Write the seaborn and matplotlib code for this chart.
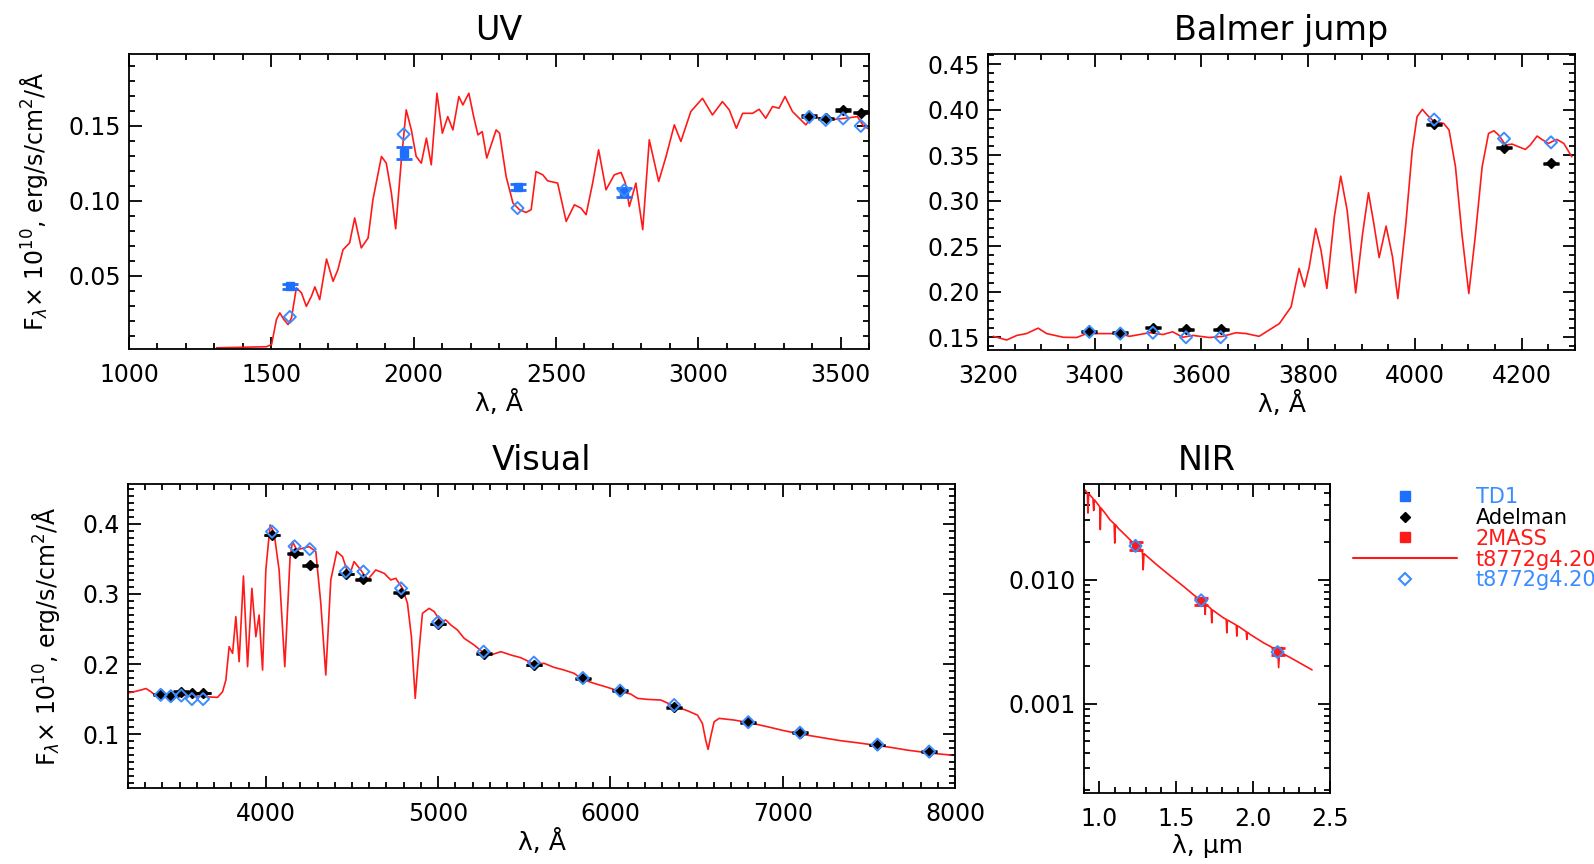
import numpy as np
import pandas as pd
import matplotlib
matplotlib.use("Agg")
import matplotlib.pyplot as plt
import seaborn as sns
from matplotlib.ticker import MultipleLocator, FixedLocator, FormatStrFormatter, LogLocator, NullFormatter
from matplotlib.lines import Line2D

# ---------------- data ----------------
# model spectrum t8772g4.20 as seen in each panel
uv_wave = [1308, 1483, 1501, 1518, 1530, 1544, 1559, 1571, 1588, 1606, 1623, 1641, 1653, 1670, 1694, 1717,
           1734, 1752, 1775, 1793, 1816, 1840, 1857, 1887, 1904, 1922, 1937, 1957, 1974, 1992, 2009, 2027,
           2045, 2062, 2082, 2101, 2120, 2138, 2159, 2173, 2194, 2211, 2226, 2241, 2257, 2290, 2302, 2325,
           2349, 2372, 2395, 2413, 2430, 2454, 2471, 2506, 2536, 2565, 2588, 2606, 2629, 2650, 2676, 2705,
           2729, 2744, 2758, 2781, 2805, 2828, 2861, 2887, 2916, 2939, 2974, 3015, 3050, 3085, 3109, 3134,
           3156, 3191, 3214, 3237, 3261, 3284, 3305, 3331, 3378, 3401, 3460, 3518, 3559, 3582, 3600]
uv_flux = [0.0018, 0.0025, 0.0040, 0.0207, 0.0251, 0.0207, 0.0173, 0.0218, 0.0418, 0.0385, 0.0295, 0.0362,
           0.0425, 0.0340, 0.0611, 0.0462, 0.0540, 0.0673, 0.0718, 0.0885, 0.0685, 0.0751, 0.1007, 0.1296,
           0.1251, 0.1051, 0.0813, 0.1273, 0.1607, 0.1473, 0.1296, 0.1251, 0.1418, 0.1240, 0.1718, 0.1451,
           0.1562, 0.1473, 0.1696, 0.1640, 0.1718, 0.1562, 0.1440, 0.1462, 0.1285, 0.1473, 0.1451, 0.1162,
           0.0985, 0.0940, 0.0922, 0.0940, 0.1195, 0.1173, 0.1133, 0.1118, 0.0862, 0.0973, 0.0951, 0.0907,
           0.1118, 0.1340, 0.1073, 0.1173, 0.1189, 0.1118, 0.0962, 0.1118, 0.0807, 0.1407, 0.1129, 0.1296,
           0.1507, 0.1396, 0.1596, 0.1684, 0.1573, 0.1662, 0.1607, 0.1484, 0.1584, 0.1584, 0.1611, 0.1551,
           0.1629, 0.1618, 0.1696, 0.1596, 0.1507, 0.1562, 0.1540, 0.1551, 0.1562, 0.1496, 0.1480]

bj_wave = [3210, 3235, 3254, 3272, 3294, 3310, 3341, 3366, 3385, 3447, 3465, 3503, 3528, 3546, 3565, 3584,
           3615, 3640, 3665, 3684, 3708, 3727, 3746, 3768, 3777, 3783, 3793, 3802, 3814, 3824, 3835, 3849,
           3861, 3873, 3889, 3902, 3913, 3923, 3933, 3946, 3958, 3968, 3983, 3995, 4004, 4014, 4023, 4036,
           4054, 4064, 4076, 4088, 4101, 4113, 4126, 4138, 4148, 4157, 4170, 4182, 4194, 4207, 4216, 4229,
           4238, 4250, 4266, 4279, 4294]
bj_flux = [0.151, 0.147, 0.152, 0.154, 0.160, 0.154, 0.150, 0.1497, 0.154, 0.154, 0.151, 0.155, 0.153, 0.156,
           0.150, 0.152, 0.1497, 0.151, 0.155, 0.154, 0.151, 0.158, 0.165, 0.1833, 0.209, 0.2255, 0.2053,
           0.2273, 0.2694, 0.2456, 0.2035, 0.2822, 0.3269, 0.2896, 0.1987, 0.2639, 0.3086, 0.2749, 0.2375,
           0.272, 0.2383, 0.1925, 0.2749, 0.3555, 0.3921, 0.4002, 0.394, 0.3866, 0.3848, 0.3775, 0.3372,
           0.2639, 0.198, 0.2603, 0.3372, 0.3738, 0.3767, 0.372, 0.361, 0.3621, 0.3592, 0.3562, 0.361,
           0.3709, 0.3672, 0.3628, 0.3672, 0.3628, 0.3482]

vis_wave = [3207, 3236, 3275, 3304, 3333, 3371, 3449, 3545, 3642, 3720, 3749, 3768, 3787, 3807, 3826, 3845,
            3870, 3894, 3919, 3942, 3961, 3981, 4000, 4025, 4048, 4077, 4110, 4141, 4155, 4180, 4213, 4251,
            4290, 4319, 4348, 4377, 4412, 4445, 4483, 4512, 4551, 4590, 4638, 4687, 4725, 4754, 4793, 4822,
            4845, 4867, 4886, 4909, 4948, 4977, 5015, 5044, 5074, 5112, 5151, 5209, 5267, 5306, 5364, 5422,
            5480, 5557, 5615, 5673, 5731, 5789, 5838, 5905, 5983, 6060, 6118, 6157, 6215, 6292, 6370, 6447,
            6505, 6534, 6553, 6567, 6582, 6602, 6631, 6718, 6805, 6911, 7008, 7104, 7221, 7337, 7433, 7530,
            7627, 7723, 7840, 7975]
vis_flux = [0.159, 0.1605, 0.1629, 0.165, 0.1605, 0.1524, 0.1533, 0.1557, 0.1533, 0.1524, 0.1605, 0.1771,
            0.2248, 0.2152, 0.2676, 0.2033, 0.3257, 0.1962, 0.3081, 0.239, 0.27, 0.1914, 0.3343, 0.3986,
            0.3867, 0.3343, 0.1962, 0.3533, 0.3748, 0.3629, 0.3652, 0.3676, 0.3605, 0.2867, 0.1843, 0.32,
            0.3605, 0.3533, 0.3248, 0.3462, 0.3343, 0.32, 0.3343, 0.3295, 0.32, 0.3224, 0.3081, 0.2867,
            0.239, 0.151, 0.2105, 0.2724, 0.2795, 0.2748, 0.2605, 0.2629, 0.2557, 0.2486, 0.2367, 0.2271,
            0.2152, 0.2129, 0.2176, 0.2129, 0.209, 0.200, 0.201, 0.1952, 0.1914, 0.1867, 0.1781, 0.1724,
            0.1667, 0.1605, 0.1571, 0.151, 0.1495, 0.1486, 0.140, 0.1333, 0.1271, 0.1152, 0.0914, 0.0781,
            0.0962, 0.1176, 0.1224, 0.120, 0.1162, 0.1105, 0.1048, 0.100, 0.0952, 0.0905, 0.0876, 0.0843,
            0.081, 0.0771, 0.0733, 0.070]

nir_wave = [0.905, 0.922, 0.926, 0.930, 0.937, 0.958, 0.963, 0.968, 0.990, 1.002, 1.006, 1.010, 1.040, 1.068,
            1.096, 1.100, 1.104, 1.122, 1.177, 1.237, 1.280, 1.285, 1.290, 1.372, 1.459, 1.546, 1.611, 1.666,
            1.684, 1.688, 1.692, 1.727, 1.731, 1.735, 1.807, 1.825, 1.829, 1.833, 1.890, 1.894, 1.898, 1.955,
            1.959, 1.963, 1.981, 2.068, 2.160, 2.166, 2.172, 2.263, 2.383]
nir_flux = [0.0530, 0.0500, 0.0344, 0.0492, 0.0483, 0.0452, 0.0360, 0.0440, 0.0405, 0.0388, 0.0253, 0.0378,
            0.0340, 0.0304, 0.0282, 0.0197, 0.0278, 0.0260, 0.0223, 0.01877, 0.0166, 0.0120, 0.0162, 0.0132,
            0.01077, 0.00884, 0.00757, 0.00669, 0.00645, 0.00523, 0.00635, 0.00580, 0.00448, 0.00570,
            0.00491, 0.00478, 0.00372, 0.00472, 0.00430, 0.00350, 0.00425, 0.00380, 0.00329, 0.00376,
            0.00361, 0.00309, 0.00268, 0.00195, 0.00262, 0.00227, 0.00187]

# TD1 photometry
td1_wave = [1565, 1965, 2365, 2740]
td1_flux = [0.0429, 0.132, 0.109, 0.1056]
td1_err = [0.0015, 0.004, 0.002, 0.003]

# Adelman spectrophotometry
adel_wave = [3390, 3448, 3509, 3571, 3636, 4036, 4167, 4255, 4464, 4566, 4785, 5000, 5264, 5556, 5840,
             6056, 6370, 6800, 7100, 7550, 7850]
adel_flux = [0.1565, 0.155, 0.1605, 0.1588, 0.1588, 0.384, 0.358, 0.341, 0.3286, 0.321, 0.302, 0.257,
             0.215, 0.1986, 0.1795, 0.162, 0.138, 0.1167, 0.102, 0.0843, 0.0748]

# 2MASS photometry
mass_wave = [1.235, 1.662, 2.159]
mass_flux = [0.01877, 0.00669, 0.00265]
mass_err = [0.0013, 0.00045, 0.00018]

# model fluxes integrated over the passbands (open diamonds)
mod_wave = [1565, 1965, 2365, 2740] + adel_wave
mod_flux = [0.0224, 0.1444, 0.0951, 0.107,
            0.156, 0.154, 0.155, 0.150, 0.150, 0.389, 0.368, 0.364, 0.332, 0.332, 0.308, 0.260,
            0.2176, 0.202, 0.180, 0.162, 0.1414, 0.117, 0.102, 0.085, 0.075]
mod_nir_wave = mass_wave
mod_nir_flux = [0.0187, 0.0068, 0.0026]

legend_labels = ["TD1", "Adelman", "2MASS", "t8772g4.20", "t8772g4.20"]
panel_titles = ["UV", "Balmer jump", "Visual", "NIR"]

# ---------------- style ----------------
sns.set_theme(style="ticks")
plt.rcParams["font.family"] = ["DejaVu Sans"]
plt.rcParams["mathtext.fontset"] = "dejavusans"

BLUE = "#1f6fff"
BLUE_D = "#3a8cff"
RED = "#ff1a1a"

W, H = 1594, 864
fig = plt.figure(figsize=(W / 100, H / 100), dpi=100)
fig.patch.set_facecolor("white")


def add_ax(l, t, r, b):
    return fig.add_axes([l / W, 1 - b / H, (r - l) / W, (b - t) / H])


ax_uv = add_ax(129, 54, 869, 349)
ax_bj = add_ax(988, 54, 1575, 350)
ax_vis = add_ax(128, 484, 955, 788)
ax_nir = add_ax(1084, 484, 1330, 793)

ylab = r"F$_{\lambda}$$\times$ 10$^{10}$, erg/s/cm$^{2}$/Å"


def draw_common(ax, wave, flux):
    sns.lineplot(x=wave, y=flux, ax=ax, color=RED, lw=1.2, sort=False, estimator=None, zorder=2,
                 solid_joinstyle="round")
    ax.errorbar(adel_wave, adel_flux, yerr=0.0005, fmt="D", color="black", ms=5.5, capsize=5.5,
                elinewidth=1.2, capthick=1.8, zorder=3)
    ax.errorbar(td1_wave, td1_flux, yerr=td1_err, fmt="s", color=BLUE, ms=6, capsize=5.5,
                elinewidth=1.8, capthick=2.0, zorder=3)
    sns.scatterplot(x=mod_wave, y=mod_flux, ax=ax, marker="D", s=38, color=BLUE_D, facecolor="none",
                    edgecolor=BLUE_D, linewidth=1.4, zorder=4)


draw_common(ax_uv, uv_wave, uv_flux)
draw_common(ax_bj, bj_wave, bj_flux)
draw_common(ax_vis, vis_wave, vis_flux)

sns.lineplot(x=nir_wave, y=nir_flux, ax=ax_nir, color=RED, lw=1.2, sort=False, estimator=None, zorder=2)
ax_nir.errorbar(mass_wave, mass_flux, yerr=mass_err, fmt="s", color=RED, ms=6, capsize=5,
                elinewidth=1.8, capthick=2.0, zorder=3)
sns.scatterplot(x=mod_nir_wave, y=mod_nir_flux, ax=ax_nir, marker="D", s=38, color=BLUE_D,
                facecolor="none", edgecolor=BLUE_D, linewidth=1.4, zorder=4)

# ---------------- axes ----------------
ax_uv.set_xlim(1000, 3600)
ax_uv.set_ylim(0.001, 0.198)
ax_uv.xaxis.set_major_locator(MultipleLocator(500))
ax_uv.xaxis.set_minor_locator(MultipleLocator(100))
ax_uv.yaxis.set_major_locator(FixedLocator([0.05, 0.10, 0.15]))
ax_uv.yaxis.set_minor_locator(MultipleLocator(0.01))
ax_uv.yaxis.set_major_formatter(FormatStrFormatter("%.2f"))

ax_bj.set_xlim(3200, 4300)
ax_bj.set_ylim(0.136, 0.461)
ax_bj.xaxis.set_major_locator(MultipleLocator(200))
ax_bj.xaxis.set_minor_locator(MultipleLocator(50))
ax_bj.yaxis.set_major_locator(MultipleLocator(0.05))
ax_bj.yaxis.set_minor_locator(MultipleLocator(0.01))
ax_bj.yaxis.set_major_formatter(FormatStrFormatter("%.2f"))

ax_vis.set_xlim(3200, 8000)
ax_vis.set_ylim(0.023, 0.457)
ax_vis.xaxis.set_major_locator(MultipleLocator(1000))
ax_vis.xaxis.set_minor_locator(MultipleLocator(100))
ax_vis.yaxis.set_major_locator(MultipleLocator(0.1))
ax_vis.yaxis.set_minor_locator(MultipleLocator(0.01))
ax_vis.yaxis.set_major_formatter(FormatStrFormatter("%.1f"))

ax_nir.set_yscale("log")
ax_nir.set_xlim(0.9, 2.5)
ax_nir.set_ylim(0.00019, 0.059)
ax_nir.xaxis.set_major_locator(MultipleLocator(0.5))
ax_nir.xaxis.set_minor_locator(MultipleLocator(0.1))
ax_nir.xaxis.set_major_formatter(FormatStrFormatter("%.1f"))
ax_nir.yaxis.set_major_locator(FixedLocator([0.001, 0.01]))
ax_nir.yaxis.set_major_formatter(FormatStrFormatter("%.3f"))
ax_nir.yaxis.set_minor_locator(LogLocator(base=10, subs=np.arange(2, 10)))
ax_nir.yaxis.set_minor_formatter(NullFormatter())

for ax, title in zip([ax_uv, ax_bj, ax_vis, ax_nir], panel_titles):
    ax.set_facecolor("white")
    ax.set_title(title, fontsize=24, pad=10, color="black")
    ax.tick_params(which="both", direction="in", top=True, right=True, width=1.3, colors="black")
    ax.tick_params(which="major", length=9, labelsize=17)
    ax.tick_params(axis="x", which="major", pad=10)
    ax.tick_params(axis="y", which="major", pad=6)
    ax.tick_params(which="minor", length=4.5)
    for s in ax.spines.values():
        s.set_linewidth(1.3)
        s.set_color("black")
        s.set_visible(True)
    ax.set_xlabel("λ, Å", fontsize=18, labelpad=2, color="black")

ax_nir.set_xlabel("λ, μm", fontsize=18, labelpad=2, color="black")
ax_uv.set_ylabel(ylab, fontsize=17, color="black")
ax_uv.yaxis.set_label_coords(-0.107, 0.5)
ax_vis.set_ylabel(ylab, fontsize=17, color="black")
ax_vis.yaxis.set_label_coords(-0.080, 0.5)

# ---------------- legend ----------------
handles = [
    Line2D([], [], ls="none", marker="s", ms=7, color=BLUE),
    Line2D([], [], ls="none", marker="D", ms=5, color="black"),
    Line2D([], [], ls="none", marker="s", ms=7, color=RED),
    Line2D([], [], color=RED, lw=1.5),
    Line2D([], [], ls="none", marker="D", ms=6, mfc="none", mec=BLUE_D, mew=1.5),
]
fig.legend(handles, legend_labels, loc="upper left", bbox_to_anchor=(1353 / W, 1 - 487 / H),
           frameon=False, fontsize=15, handlelength=5.0, handletextpad=0.9, labelspacing=0.04,
           borderpad=0, borderaxespad=0,
           labelcolor=[BLUE_D, "black", RED, RED, BLUE_D])

fig.savefig("out.png", dpi=100, facecolor="white")
